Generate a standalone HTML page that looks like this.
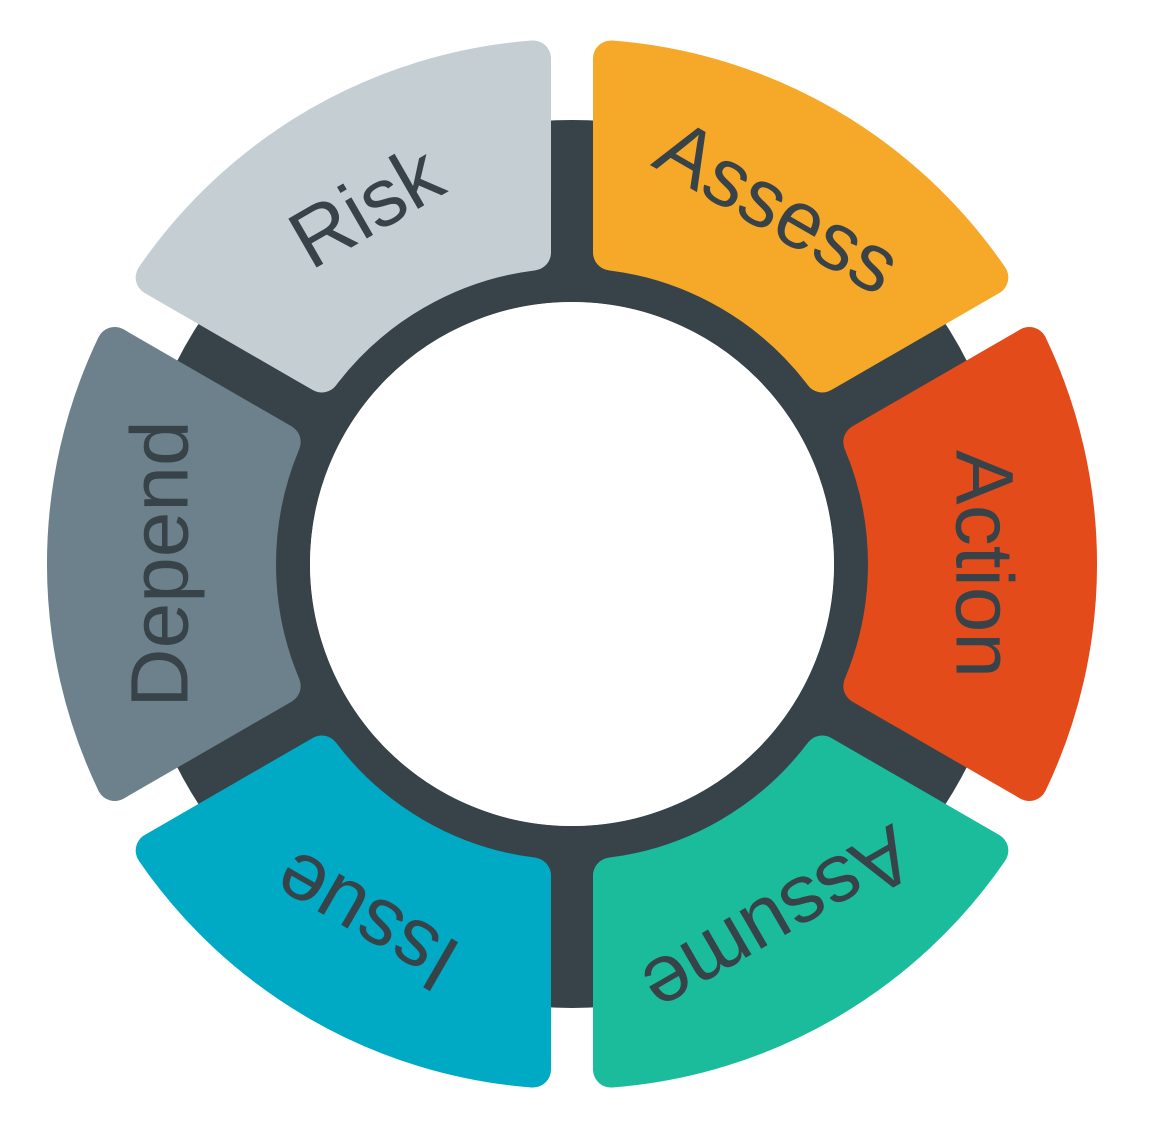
<!DOCTYPE html>
<html><head><meta charset="utf-8"><style>html,body{margin:0;padding:0;background:#fff}svg{display:block}</style></head>
<body>
<svg width="1156" height="1146" viewBox="0 0 1156 1146" xmlns="http://www.w3.org/2000/svg">
<defs>
<path id="seg" d="M 289.3 -122.0 L 457.3 -219.0 A 507 507 0 0 1 457.3 219.0 L 289.3 122.0 A 314 314 0 0 0 289.3 -122.0 Z" stroke-width="36" stroke-linejoin="round"/>
</defs>
<g transform="translate(572,564)">
<circle r="353" fill="none" stroke="#374349" stroke-width="182"/>
<circle r="262" fill="#fff"/>
<g font-family="Liberation Sans, sans-serif" font-size="82" fill="#374349" text-anchor="middle">
<g transform="rotate(0)"><use href="#seg" fill="#E44B1A" stroke="#E44B1A"/><text transform="translate(412,0) rotate(90)" dominant-baseline="central">Action</text></g>
<g transform="rotate(-60)"><use href="#seg" fill="#F6A828" stroke="#F6A828"/><text transform="translate(412,0) rotate(90)" dominant-baseline="central">Assess</text></g>
<g transform="rotate(-120)"><use href="#seg" fill="#C4CED3" stroke="#C4CED3"/><text transform="translate(412,0) rotate(90)" dominant-baseline="central">Risk</text></g>
<g transform="rotate(180)"><use href="#seg" fill="#6C818C" stroke="#6C818C"/><text transform="translate(412,0) rotate(90)" dominant-baseline="central">Depend</text></g>
<g transform="rotate(120)"><use href="#seg" fill="#00A9C4" stroke="#00A9C4"/><text transform="translate(412,0) rotate(90)" dominant-baseline="central">Issue</text></g>
<g transform="rotate(60)"><use href="#seg" fill="#1BBC9B" stroke="#1BBC9B"/><text transform="translate(412,0) rotate(90)" dominant-baseline="central">Assume</text></g>
</g>
</g>
</svg>
</body></html>
